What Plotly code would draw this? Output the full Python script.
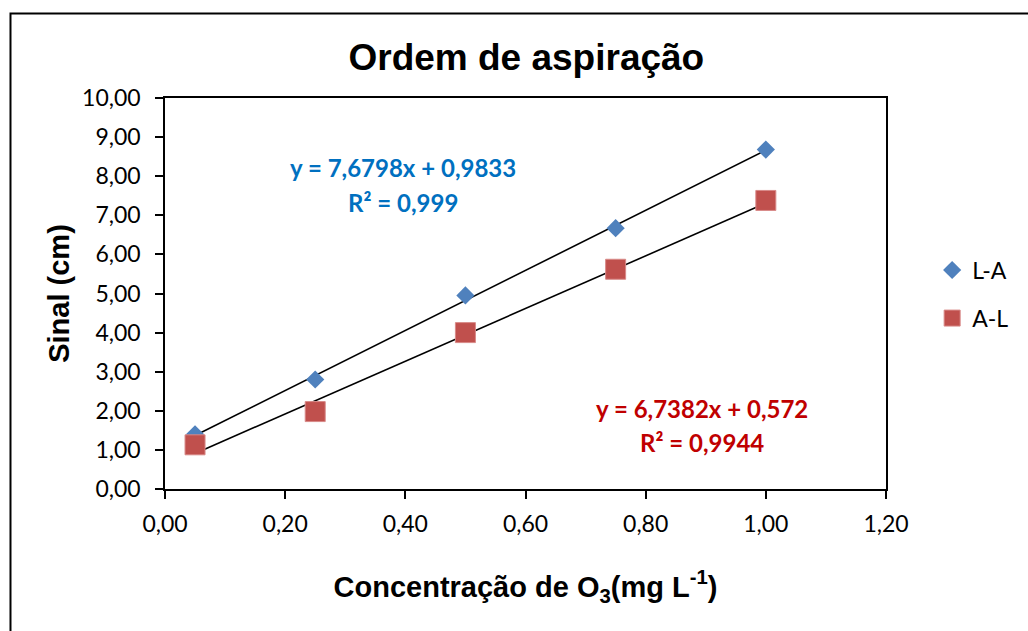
import plotly.graph_objects as go

# Concentration of O3 (mg/L) and measured signal (cm) for both aspiration orders
conc = [0.05, 0.25, 0.50, 0.75, 1.00]
sinal_la = [1.40, 2.80, 4.95, 6.67, 8.68]
sinal_al = [1.13, 1.98, 4.00, 5.62, 7.38]

# Linear fits reported on the chart
fit_la = (7.6798, 0.9833, "0,999")
fit_al = (6.7382, 0.572, "0,9944")

x_ticks = [0, 0.2, 0.4, 0.6, 0.8, 1.0, 1.2]
x_tick_text = ["0,00", "0,20", "0,40", "0,60", "0,80", "1,00", "1,20"]
y_ticks = list(range(0, 11))
y_tick_text = [f"{v},00" for v in y_ticks]

BLUE = "#4F81BD"
RED = "#C0504D"
TXT_FONT = "Lato"
HEAD_FONT = "Liberation Sans"


def fmt(v):
    return str(v).replace(".", ",")


def fit_line(slope, intercept):
    xs = [conc[0], conc[-1]]
    return xs, [slope * x + intercept for x in xs]


fig = go.Figure()

# trendlines
for slope, intercept, _ in (fit_la, fit_al):
    xs, ys = fit_line(slope, intercept)
    fig.add_trace(go.Scatter(x=xs, y=ys, mode="lines",
                             line=dict(color="black", width=1.6),
                             showlegend=False, hoverinfo="skip"))

fig.add_trace(go.Scatter(x=conc, y=sinal_la, mode="markers", name="L-A",
                         marker=dict(symbol="diamond", size=14, color=BLUE,
                                     line=dict(width=0)),
                         legend="legend"))
fig.add_trace(go.Scatter(x=conc, y=sinal_al, mode="markers", name="A-L",
                         marker=dict(symbol="square", size=20, color=RED,
                                     line=dict(width=1, color="#D88A88")),
                         legend="legend2"))

annos = []
for (slope, intercept, r2), color, (ax, ay1, ay2) in (
        (fit_la, "#0070C0", (0.396, 8.235, 7.34)),
        (fit_al, "#C00000", (0.894, 2.07, 1.20))):
    annos.append(dict(x=ax, y=ay1, xref="x", yref="y", showarrow=False,
                      text=f"<b>y = {fmt(slope)}x + {fmt(intercept)}</b>",
                      font=dict(family=TXT_FONT, size=24, color=color)))
    annos.append(dict(x=ax, y=ay2, xref="x", yref="y", showarrow=False,
                      text=f"<b>R² = {r2}</b>",
                      font=dict(family=TXT_FONT, size=24, color=color)))

axis_common = dict(showline=True, linecolor="black", linewidth=1.5,
                   mirror=True, ticks="outside", ticklen=8, tickwidth=1.5,
                   tickcolor="black", showgrid=False, zeroline=False,
                   tickfont=dict(family=TXT_FONT, size=23, color="black"))

legend_common = dict(xanchor="left", yanchor="middle",
                     font=dict(family=TXT_FONT, size=23, color="black"),
                     bgcolor="rgba(0,0,0,0)", itemwidth=30)

fig.update_layout(
    width=1028, height=631,
    margin=dict(l=165, r=142, t=98, b=142, autoexpand=False),
    paper_bgcolor="white", plot_bgcolor="white",
    title=dict(text="<b>Ordem de aspiração</b>", x=0.512, xanchor="center",
               y=0.91, yanchor="middle",
               font=dict(family=HEAD_FONT, size=37, color="black")),
    xaxis=dict(range=[0, 1.2], tickvals=x_ticks, ticktext=x_tick_text,
               ticklabelstandoff=6,
               title=dict(text="<b>Concentração de O<sub>3</sub>(mg L<sup>-1</sup>)</b>",
                          font=dict(family=HEAD_FONT, size=29, color="black"),
                          standoff=40),
               **axis_common),
    yaxis=dict(range=[0, 10], tickvals=y_ticks, ticktext=y_tick_text,
               ticklabelstandoff=10,
               title=dict(text="<b>Sinal (cm)</b>",
                          font=dict(family=HEAD_FONT, size=29, color="black"),
                          standoff=4),
               **axis_common),
    legend=dict(x=1.064, y=0.560, **legend_common),
    legend2=dict(x=1.064, y=0.437, **legend_common),
    annotations=annos,
    shapes=[dict(type="rect", xref="paper", yref="paper",
                 x0=-0.2143, x1=1.25, y0=-0.4, y1=1.216,
                 line=dict(color="black", width=2), fillcolor="rgba(0,0,0,0)",
                 layer="below")],
)

fig.write_html("out.html")
